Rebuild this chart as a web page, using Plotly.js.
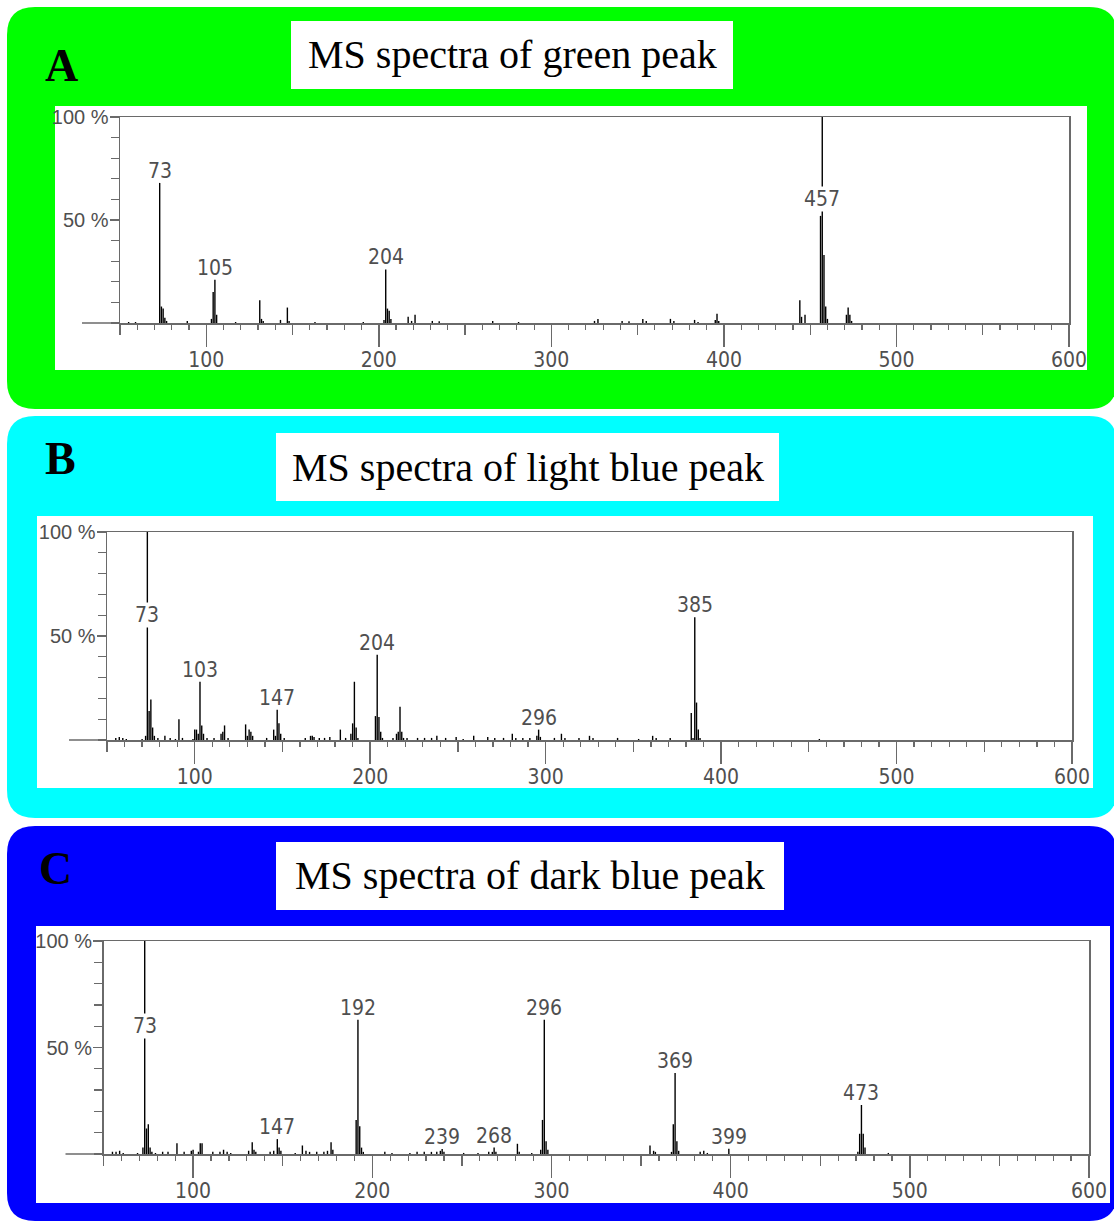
<!DOCTYPE html>
<html>
<head>
<meta charset="utf-8">
<script src="https://cdn.plot.ly/plotly-3.0.1.min.js"></script>
<style>
  html, body { margin: 0; padding: 0; background: #ffffff; }
  #chart { width: 1114px; height: 1222px; }
</style>
</head>
<body>
<div id="chart"></div>
<script>
// ---------------- DATA ----------------
const panelLetters = ['A', 'B', 'C'];
const panelTitles = ['MS spectra of green peak', 'MS spectra of light blue peak', 'MS spectra of dark blue peak'];
const xTickVals = [100, 200, 300, 400, 500, 600];
const xTickText = ['100', '200', '300', '400', '500', '600'];
const yTickVals = [50, 100];
const yTickText = ['50 %', '100 %'];

// Panel A - green peak (m/z, relative intensity %)
const mzA  = [55, 59, 73, 74, 75, 76, 77, 89, 103, 104, 105, 106, 117, 131, 132, 133, 143, 147, 148, 163, 191,
              203, 204, 205, 206, 207, 217, 219, 221, 231, 235, 266, 281, 325, 327, 341, 345, 353, 355, 369, 371,
              383, 385, 395, 396, 397, 444, 445, 447, 456, 457, 458, 459, 460, 471, 472, 473, 474];
const intA = [0.5, 0.5, 68, 8, 7, 2.5, 1, 1, 2, 15, 21, 4, 0.5, 11, 2, 1, 1.5, 7.5, 1, 0.5, 0.5,
              1.5, 26, 7, 6, 2, 3, 1, 4, 1, 0.8, 1, 0.5, 1, 2, 1, 0.8, 2, 1, 2, 1,
              1.5, 0.5, 1.5, 4.5, 1, 11, 3, 4, 52, 100, 33, 8, 2, 4, 7.5, 4, 1];
const labelsA = [73, 105, 204, 457];

// Panel B - light blue peak
const mzB  = [55, 57, 59, 61, 70, 72, 73, 74, 75, 76, 77, 79, 83, 86, 89, 91, 93, 99, 100, 101, 102, 103, 104, 105,
              107, 111, 115, 116, 117, 119, 129, 130, 131, 132, 133, 141, 145, 146, 147, 148, 149, 151, 163, 166,
              167, 168, 171, 174, 177, 183, 186, 189, 190, 191, 192, 193, 203, 204, 205, 206, 207, 213, 215, 216,
              217, 218, 219, 221, 227, 231, 235, 238, 243, 249, 253, 259, 267, 271, 276, 281, 283, 287, 291, 295,
              296, 297, 305, 309, 311, 319, 325, 327, 341, 353, 361, 363, 371, 383, 384, 385, 386, 387, 388, 456];
const intB = [1, 1.5, 1, 0.5, 0.5, 2, 100, 14, 19.5, 6, 2, 1, 2, 1, 0.5, 10, 1, 0.5, 5, 5, 3, 28, 7, 3,
              1, 1, 3, 4, 7, 1, 7.5, 2, 5, 4, 2, 1, 5, 2, 14.5, 8, 3, 1, 1, 2,
              2, 1.5, 1, 1, 1.5, 5, 1, 3, 8, 28, 6, 1, 11.5, 41, 11, 4, 1, 1, 3, 4,
              16, 4, 1, 1, 1, 1, 1, 2, 1, 1.5, 0.5, 2, 1.5, 1, 1, 3, 1, 1, 1, 2,
              5, 1.5, 1, 3, 1, 1, 2, 1, 1, 0.5, 2, 1, 1, 13, 1, 59, 18, 5, 1, 0.5];
const labelsB = [73, 103, 147, 204, 296, 385];

// Panel C - dark blue peak
const mzC  = [55, 57, 59, 61, 69, 72, 73, 74, 75, 76, 77, 79, 83, 86, 91, 95, 99, 100, 103, 104, 105, 111, 115,
              117, 119, 121, 131, 133, 134, 135, 143, 145, 147, 148, 149, 157, 161, 163, 165, 169, 173, 175, 177,
              178, 191, 192, 193, 194, 195, 207, 211, 221, 225, 229, 233, 236, 238, 239, 240, 251, 259, 265, 267,
              268, 269, 281, 282, 289, 294, 295, 296, 297, 298, 355, 357, 358, 367, 368, 369, 370, 371, 383, 385,
              387, 399, 471, 472, 473, 474, 475, 488];
const intC = [1, 1, 1.5, 0.5, 0.5, 3, 100, 12, 14, 3, 1, 0.5, 1, 1, 5, 1, 1.5, 2, 1, 5, 5, 1, 1,
              2, 1, 0.5, 1.5, 5.5, 2, 1, 1, 1.5, 7, 3, 1.5, 0.5, 4, 1.5, 1, 1, 1, 1.5, 5.5,
              2, 16, 63, 13, 3, 1, 1, 0.5, 0.5, 1, 1, 1, 1, 1.5, 2.3, 1, 0.5, 0.5, 1, 1,
              3, 1, 4.8, 1, 0.5, 2, 16, 63, 6, 2, 4, 1.5, 1, 1, 14, 38, 6, 1.5, 1, 1.5,
              0.5, 2.5, 1, 9.5, 23, 9.5, 3, 0.5];
const labelsC = [73, 147, 192, 239, 268, 296, 369, 399, 473];

const spectra = [
  {mz: mzA, inten: intA, labels: labelsA},
  {mz: mzB, inten: intB, labels: labelsB},
  {mz: mzC, inten: intC, labels: labelsC}
];

// ---------------- LAYOUT GEOMETRY (pixels) ----------------
const W = 1114, H = 1222;
const geom = [
  {fill: '#00ff00', box: [7, 7, 1117, 409],    white: [55, 106, 1087, 370],  title: [291, 21, 733, 89],  letter: [43, 66],  axes: [120, 117, 1069, 323]},
  {fill: '#00ffff', box: [7, 416, 1117, 818],  white: [37, 516, 1093, 788],  title: [276, 433, 779, 501], letter: [43, 459], axes: [107, 532, 1072, 740]},
  {fill: '#0000ff', box: [7, 826, 1117, 1221], white: [36, 926, 1110, 1203], title: [276, 842, 784, 910], letter: [37, 868], axes: [103.5, 941, 1089, 1154]}
];
const fx = v => v / W;
const fy = v => 1 - v / H;

function roundRectPath(x0, y0, x1, y1, r) {
  const P = (x, y) => fx(x) + ',' + fy(y);
  return 'M' + P(x0 + r, y0) + ' L' + P(x1 - r, y0) + ' Q' + P(x1, y0) + ' ' + P(x1, y0 + r) +
         ' L' + P(x1, y1 - r) + ' Q' + P(x1, y1) + ' ' + P(x1 - r, y1) +
         ' L' + P(x0 + r, y1) + ' Q' + P(x0, y1) + ' ' + P(x0, y1 - r) +
         ' L' + P(x0, y0 + r) + ' Q' + P(x0, y0) + ' ' + P(x0 + r, y0) + ' Z';
}

const AXIS_GRAY = '#6a6a6a';
const TEXT_GRAY = '#4f4f4f';
const NARROW = '"Liberation Sans Narrow", "Arial Narrow", "DejaVu Sans Condensed", sans-serif';

const traces = [];
const shapes = [];
const annotations = [];
const layout = {
  width: W, height: H,
  margin: {l: 0, r: 0, t: 0, b: 0, pad: 0},
  paper_bgcolor: '#ffffff',
  plot_bgcolor: 'rgba(0,0,0,0)',
  showlegend: false,
  hovermode: false
};

geom.forEach((g, i) => {
  const n = i + 1;
  const xid = 'x' + (n === 1 ? '' : n);
  const yid = 'y' + (n === 1 ? '' : n);
  const ovId = 'x' + (n + 3);
  const xDomain = [fx(g.axes[0]), fx(g.axes[2])];
  const yDomain = [fy(g.axes[3]), fy(g.axes[1])];

  // background panel + white boxes
  shapes.push({type: 'path', xref: 'paper', yref: 'paper', layer: 'below',
               path: roundRectPath(g.box[0], g.box[1], g.box[2], g.box[3], 28),
               fillcolor: g.fill, line: {width: 0}});
  shapes.push({type: 'rect', xref: 'paper', yref: 'paper', layer: 'below',
               x0: fx(g.white[0]), x1: fx(g.white[2]), y0: fy(g.white[3]), y1: fy(g.white[1]),
               fillcolor: '#ffffff', line: {width: 0}});
  shapes.push({type: 'rect', xref: 'paper', yref: 'paper', layer: 'below',
               x0: fx(g.title[0]), x1: fx(g.title[2]), y0: fy(g.title[3]), y1: fy(g.title[1]),
               fillcolor: '#ffffff', line: {width: 0}});
  // baseline extension left of the y axis
  shapes.push({type: 'line', xref: 'paper', yref: 'paper', layer: 'above',
               x0: fx(g.axes[0] - 38), x1: fx(g.axes[0]), y0: fy(g.axes[3]), y1: fy(g.axes[3]),
               line: {color: AXIS_GRAY, width: 1.5}});

  // title + letter
  annotations.push({xref: 'paper', yref: 'paper', x: fx((g.title[0] + g.title[2]) / 2), y: fy((g.title[1] + g.title[3]) / 2),
                    xanchor: 'center', yanchor: 'middle', showarrow: false, text: panelTitles[i],
                    font: {family: '"Liberation Serif", "Times New Roman", serif', size: 40, color: '#000'}});
  annotations.push({xref: 'paper', yref: 'paper', x: fx(g.letter[0]), y: fy(g.letter[1]),
                    xanchor: 'left', yanchor: 'middle', showarrow: false, text: panelLetters[i],
                    font: {family: '"Liberation Serif", "Times New Roman", serif', size: 46, color: '#000', weight: 700}});

  // axes
  layout['xaxis' + (n === 1 ? '' : n)] = {
    domain: xDomain, range: [50, 600], anchor: yid, fixedrange: true,
    showgrid: false, zeroline: false,
    showline: true, linecolor: AXIS_GRAY, linewidth: 1.5, mirror: true,
    tickmode: 'array', tickvals: xTickVals, ticktext: xTickText,
    ticks: 'outside', ticklen: 22, tickwidth: 1.5, tickcolor: AXIS_GRAY, ticklabelstandoff: -5,
    tickfont: {family: NARROW, size: 21, color: TEXT_GRAY},
    minor: {tickmode: 'linear', tick0: 0, dtick: 10, ticks: 'outside', ticklen: 5, tickwidth: 1.2, tickcolor: AXIS_GRAY, showgrid: false}
  };
  layout['xaxis' + (n + 3)] = {
    domain: xDomain, range: [50, 600], anchor: yid, overlaying: xid, fixedrange: true,
    showgrid: false, zeroline: false, showline: false, showticklabels: false,
    tickmode: 'linear', tick0: 50, dtick: 100,
    ticks: 'outside', ticklen: 11, tickwidth: 1.3, tickcolor: AXIS_GRAY
  };
  layout['yaxis' + (n === 1 ? '' : n)] = {
    domain: yDomain, range: [0, 100], anchor: xid, fixedrange: true,
    showgrid: false, zeroline: false,
    showline: true, linecolor: AXIS_GRAY, linewidth: 1.5, mirror: true,
    tickmode: 'array', tickvals: yTickVals, ticktext: yTickText,
    ticks: 'outside', ticklen: 9, tickwidth: 1.3, tickcolor: AXIS_GRAY, ticklabelstandoff: -3,
    tickfont: {family: '"Liberation Sans", Arial, sans-serif', size: 20, color: TEXT_GRAY},
    minor: {tickmode: 'linear', tick0: 0, dtick: 10, ticks: 'outside', ticklen: 8, tickwidth: 1.2, tickcolor: AXIS_GRAY, showgrid: false}
  };

  // spectrum sticks
  const s = spectra[i];
  const xs = [], ys = [];
  s.mz.forEach((m, k) => { xs.push(m, m, null); ys.push(0, s.inten[k], null); });
  traces.push({type: 'scatter', mode: 'lines', x: xs, y: ys, xaxis: xid, yaxis: yid,
               line: {color: '#000000', width: 1.4}, hoverinfo: 'skip', showlegend: false});
  traces.push({type: 'scatter', mode: 'lines', x: [], y: [], xaxis: ovId, yaxis: yid, hoverinfo: 'skip', showlegend: false});

  // peak labels
  s.labels.forEach(m => {
    const h = s.inten[s.mz.indexOf(m)];
    const base = h >= 99;
    annotations.push({xref: xid, yref: yid, x: m, y: base ? 60 : h,
                      xanchor: 'center', yanchor: base ? 'middle' : 'bottom', yshift: base ? 0 : -1,
                      showarrow: false, text: String(m), borderpad: 0,
                      bgcolor: base ? '#ffffff' : 'rgba(0,0,0,0)',
                      font: {family: NARROW, size: 21, color: TEXT_GRAY}});
  });
});

layout.shapes = shapes;
layout.annotations = annotations;

Plotly.newPlot('chart', traces, layout, {displayModeBar: false, staticPlot: true});
</script>
</body>
</html>
